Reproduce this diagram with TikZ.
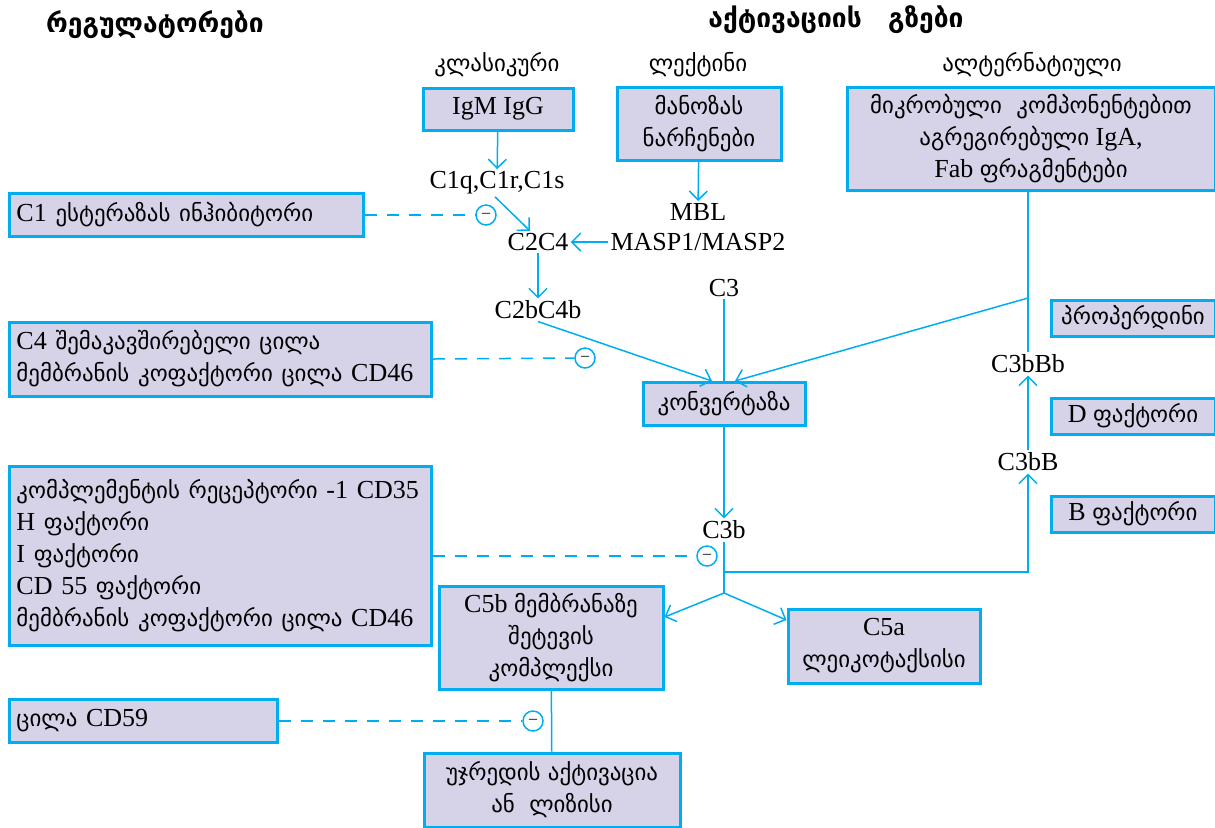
\documentclass[tikz,border=0pt]{standalone}
\usepackage{fontspec}
\setmainfont{Liberation Serif}
\newfontfamily\geo{DejaVu Sans}[Scale=0.88]
\usetikzlibrary{arrows.meta}
\definecolor{linecyan}{RGB}{0,174,239}
\definecolor{boxfill}{RGB}{214,210,232}

\begin{document}
\begin{tikzpicture}[x=0.5pt,y=-0.5pt,>={Straight Barb[length=4.5pt,width=9pt]},
  font=\fontsize{13}{16}\selectfont,
  box/.style={draw=linecyan,fill=boxfill,line width=1.5pt,inner sep=2pt,align=center},
  lbox/.style={box,align=left,inner xsep=3.5pt,anchor=west},
  lbl/.style={inner sep=1pt},
  link/.style={draw=linecyan,line width=0.75pt},
  inh/.style={draw=linecyan,line width=0.75pt,dash pattern=on 6pt off 5pt},
  minus/.style={circle,draw=linecyan,line width=0.75pt,fill=white,minimum size=10pt,inner sep=0pt,font=\fontsize{8}{8}\selectfont}]

  \useasboundingbox (0,0) rectangle (1215,827);

  % titles
  \node[font=\geo\bfseries\fontsize{15}{18}\selectfont] (regtitle) at (155,25) {რეგულატორები};
  \node[font=\geo\bfseries\fontsize{15}{18}\selectfont] (acttitle) at (836,20) {აქტივაციის\quad გზები};
  \node[lbl] (klas) at (497,65) {\geo კლასიკური};
  \node[lbl] (lekt) at (698,65) {\geo ლექტინი};
  \node[lbl] (altn) at (1032,65) {\geo ალტერნატიული};

  % activation boxes
  \node[box,minimum width=75pt,minimum height=21pt] (igm) at (498,109) {IgM IgG};
  \node[box,minimum width=82pt,minimum height=36.5pt] (mano) at (699,124) {{\geo მანოზას}\\{\geo ნარჩენები}};
  \node[box,minimum width=184pt,minimum height=51.5pt] (alt) at (1031,139) {{\geo მიკრობული\ \ კომპონენტებით}\\{\geo აგრეგირებული} IgA,\\Fab {\geo ფრაგმენტები}};
  \node[box,minimum width=81pt,minimum height=21.5pt] (konv) at (724,404) {\geo კონვერტაზა};
  \node[box,minimum width=82pt,minimum height=18pt] (prop) at (1133,318) {\geo პროპერდინი};
  \node[box,minimum width=82pt,minimum height=18pt] (dfac) at (1133,416) {D {\geo ფაქტორი}};
  \node[box,minimum width=82pt,minimum height=18pt] (bfac) at (1133,514) {B {\geo ფაქტორი}};
  \node[box,minimum width=112pt,minimum height=51.5pt] (c5b) at (551,638) {C5b {\geo მემბრანაზე}\\{\geo შეტევის}\\{\geo კომპლექსი}};
  \node[box,minimum width=96pt,minimum height=37pt] (c5a) at (884,646) {C5a\\{\geo ლეიკოტაქსისი}};
  \node[box,minimum width=128pt,minimum height=37pt] (cell) at (552,790) {{\geo უჯრედის აქტივაცია}\\{\geo ან\ \ ლიზისი}};

  % regulator boxes
  \node[lbox,text width=170pt,minimum height=21.5pt] (c1inh) at (8,215) {C1 {\geo ესტერაზას ინჰიბიტორი}};
  \node[lbox,text width=204pt,minimum height=37pt] (c4inh) at (8,359) {C4 {\geo შემაკავშირებელი ცილა}\\{\geo მემბრანის კოფაქტორი ცილა} CD46};
  \node[lbox,text width=204pt,minimum height=89.5pt] (multi) at (8,556) {{\geo კომპლემენტის რეცეპტორი} -1 CD35\\H {\geo ფაქტორი}\\I {\geo ფაქტორი}\\CD 55 {\geo ფაქტორი}\\{\geo მემბრანის კოფაქტორი ცილა} CD46};
  \node[lbox,text width=127pt,minimum height=21.5pt] (cd59) at (8,721) {{\geo ცილა} CD59};

  % intermediate products
  \node[lbl] (c1q) at (497,183) {C1q,C1r,C1s};
  \node[lbl] (c2c4) at (538,242) {C2C4};
  \node[lbl] (mbl) at (698,212) {MBL};
  \node[lbl] (masp) at (698,242) {MASP1/MASP2};
  \node[lbl] (c3) at (724,288) {C3};
  \node[lbl] (c2bc4b) at (538,310) {C2bC4b};
  \node[lbl] (c3bbb) at (1028,364) {C3bBb};
  \node[lbl] (c3bb) at (1028,462) {C3bB};
  \node[lbl] (c3b) at (724,530) {C3b};

  % inhibition marks
  \node[minus] (m1) at (486,215) {--};
  \node[minus] (m2) at (585,358) {--};
  \node[minus] (m3) at (707,556) {--};
  \node[minus] (m4) at (533,721) {--};

  \coordinate (altjoin) at (1028,298);
  \coordinate (branch) at (724,572);
  \coordinate (split) at (724,593);

  \draw[link,->] (igm) -- (c1q);
  \draw[link,->] (mano) -- (mbl);
  \draw[link,->] ([xshift=-1pt]c1q.south) -- ([xshift=-4pt]c2c4.north);
  \draw[link,->] (masp) -- (c2c4);
  \draw[link,->] (c2c4) -- (c2bc4b);
  \draw[link,->] (c2bc4b.south) -- ([xshift=-6pt]konv.north);
  \draw[link] (c3) -- (konv);
  \draw[link] (alt.south -| c3bbb.north) -- (c3bbb.north);
  \draw[link,->] (altjoin) -- ([xshift=5.5pt]konv.north);
  \draw[link,->] (c3bb) -- (c3bbb);
  \draw[link,->] (konv) -- (c3b);
  \draw[link] (c3b.south) -- (split);
  \draw[link,->] (branch) -| (c3bb.south);
  \draw[link,->] (split) -- ([yshift=10.5pt]c5b.east);
  \draw[link,->] (split) -- ([yshift=13pt]c5a.west);
  \draw[link] (c5b) -- (cell);

  \draw[inh] (c1inh.east) -- (m1.west);
  \draw[inh] (c4inh.east) -- (m2.west);
  \draw[inh] (multi.east) -- (m3.west);
  \draw[inh] (cd59.east) -- (m4.west);
\end{tikzpicture}
\end{document}
